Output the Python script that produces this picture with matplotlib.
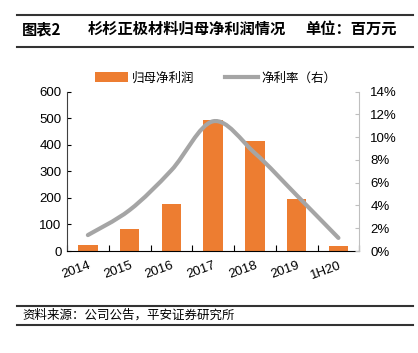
import matplotlib.pyplot as plt
import numpy as np
from matplotlib.path import Path
from matplotlib.patches import PathPatch, Patch
from matplotlib.lines import Line2D

# 数据
years = ['2014', '2015', '2016', '2017', '2018', '2019', '1H20']
profit = [21, 81, 178, 495, 413, 194, 18]          # 归母净利润（百万元）
margin = [1.4, 3.6, 7.1, 11.4, 8.6, 4.9, 1.15]     # 净利率（%）

orange = '#ED7D31'
gray = '#A5A5A5'
cjk = ['Noto Sans CJK SC', 'DejaVu Sans']
num = ['Liberation Sans', 'DejaVu Sans']

W, H = 418, 353
fig = plt.figure(figsize=(W / 100, H / 100), dpi=100)

def fx(px):
    return px / W

def fy(py):
    return 1 - py / H

ax = fig.add_axes([fx(67), fy(251), fx(359.3) - fx(67), fy(91.7) - fy(251)])
ax2 = ax.twinx()

x = np.arange(len(years))
ax.bar(x, profit, width=0.47, color=orange, zorder=2)
ax.set_xlim(-0.5, len(years) - 0.5)
ax.set_ylim(0, 600)
ax.set_yticks(range(0, 601, 100))

# 平滑曲线（Catmull-Rom -> Bezier）
m = np.array(margin) / 100
pts = np.column_stack([x, m])
verts = [pts[0]]
codes = [Path.MOVETO]
for i in range(len(pts) - 1):
    p0 = pts[max(i - 1, 0)]
    p1 = pts[i]
    p2 = pts[i + 1]
    p3 = pts[min(i + 2, len(pts) - 1)]
    c1 = p1 + (p2 - p0) / 6
    c2 = p2 - (p3 - p1) / 6
    verts += [c1, c2, p2]
    codes += [Path.CURVE4] * 3
ax2.add_patch(PathPatch(Path(verts, codes), fill=False, edgecolor=gray,
                        lw=3, capstyle='round', zorder=3))
ax2.set_ylim(0, 0.14)
ax2.set_yticks(np.arange(0, 0.141, 0.02))
ax2.set_yticklabels([f'{int(round(v * 100))}%' for v in np.arange(0, 0.141, 0.02)])

# 坐标轴样式
for a in (ax, ax2):
    a.spines['top'].set_visible(False)
ax.spines['right'].set_visible(False)
ax2.spines['left'].set_visible(False)
ax2.spines['bottom'].set_visible(False)
ax.spines['left'].set_color('#404040')
ax.spines['bottom'].set_color('#000000')
ax2.spines['right'].set_color('#BFBFBF')

ax.set_xticks(np.arange(-0.5, len(years)), minor=False)
ax.set_xticklabels([])
ax.set_xticks(x, minor=True)
ax.set_xticklabels(years, minor=True, rotation=20, ha='right',
                   rotation_mode='anchor', fontsize=9.5, family=num)
ax.tick_params(axis='x', which='major', direction='in', length=4, color='#000000')
ax.tick_params(axis='x', which='minor', length=0, pad=6)
ax.tick_params(axis='y', direction='in', length=3, labelsize=9.5, pad=4)
ax2.tick_params(axis='y', direction='in', length=3, labelsize=9.5, pad=8,
                color='#BFBFBF')
for t in ax.get_yticklabels() + ax2.get_yticklabels():
    t.set_family(num)

# 图例
handles = [Patch(facecolor=orange, edgecolor='none'),
           Line2D([], [], color=gray, lw=3)]
fig.legend(handles, ['归母净利润', '净利率（右）'], loc='center',
           bbox_to_anchor=(fx(216), fy(78)), ncol=2, frameon=False,
           prop={'family': cjk, 'size': 9}, handlelength=2.6,
           handleheight=0.8, columnspacing=2.5, handletextpad=0.3)

# 标题与注释
line_kw = dict(color='#333333', lw=1.5)
fig.add_artist(Line2D([fx(17), fx(413)], [fy(15), fy(15)], **line_kw))
fig.add_artist(Line2D([fx(17), fx(413)], [fy(46.5), fy(46.5)], **line_kw))
fig.text(fx(22), fy(29), '图表2', fontsize=11, fontweight='bold', family=cjk, va='center')
fig.text(fx(88), fy(29), '杉杉正极材料归母净利润情况', fontsize=11,
         fontweight='bold', family=cjk, va='center')
fig.text(fx(305), fy(29), '单位：百万元', fontsize=11, fontweight='bold',
         family=cjk, va='center')

fig.add_artist(Line2D([fx(17), fx(413)], [fy(305.5), fy(305.5)], **line_kw))
fig.add_artist(Line2D([fx(17), fx(413)], [fy(324.5), fy(324.5)], **line_kw))
fig.text(fx(22), fy(315), '资料来源：公司公告，平安证券研究所', fontsize=9,
         family=cjk, style='italic', va='center')

fig.savefig('out.png', dpi=100)
